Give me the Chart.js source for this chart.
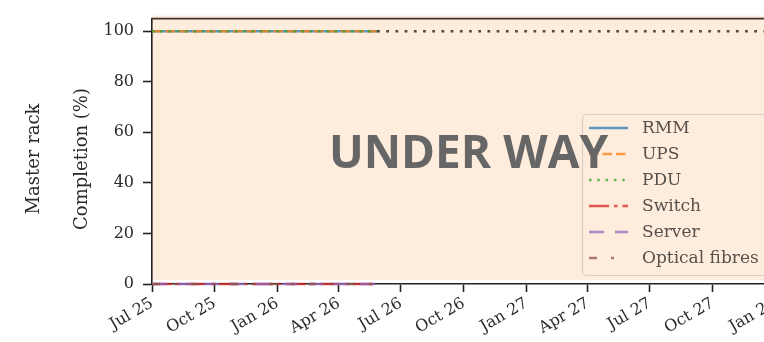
<!DOCTYPE html>
<html>
<head>
<meta charset="utf-8">
<title>Master rack completion</title>
<script src="https://cdn.jsdelivr.net/npm/chart.js@4.4.1/dist/chart.umd.min.js"></script>
<style>
  html, body { margin: 0; padding: 0; background: #fff; overflow: hidden; }
  #wrap { width: 764px; height: 342px; overflow: hidden; }
  canvas { display: block; }
</style>
</head>
<body>
<div id="wrap"><canvas id="rack" width="800" height="342"></canvas></div>
<script>
'use strict';

// ── data ──────────────────────────────────────────────────────────────────────

const xTickDates = ['2025-07-01', '2025-10-01', '2026-01-01', '2026-04-01', '2026-07-01', '2026-10-01',
  '2027-01-01', '2027-04-01', '2027-07-01', '2027-10-01', '2028-01-01'];
const xTickLabels = ['Jul 25', 'Oct 25', 'Jan 26', 'Apr 26', 'Jul 26', 'Oct 26',
  'Jan 27', 'Apr 27', 'Jul 27', 'Oct 27', 'Jan 28'];
const yTickValues = [0, 20, 40, 60, 80, 100];

const xStart = '2025-07-01';
const xEnd = '2028-01-15';

const taskNames = ['RMM', 'UPS', 'PDU', 'Switch', 'Server', 'Optical fibres'];
const progressDates = ['2025-07-01', '2026-05-27'];
const rmmValues = [100, 100];
const upsValues = [100, 100];
const pduValues = [100, 100];
const switchValues = [0, 0];
const serverValues = [0, 0];
const fibreValues = [0, 0];

const plannedDates = ['2026-05-27', xEnd];
const plannedValues = [100, 100];

const statusText = 'UNDER WAY';
const rowLabel = 'Master rack';
const yTitle = 'Completion (%)';

// ── helpers ───────────────────────────────────────────────────────────────────

const DAY = 86400000;
const origin = Date.UTC(2025, 6, 1);

function dayOf(iso) {
  const [y, m, d] = iso.split('-').map(Number);
  return (Date.UTC(y, m - 1, d) - origin) / DAY;
}

function points(dates, values) {
  return dates.map((d, i) => ({ x: dayOf(d), y: values[i] }));
}

const SERIF = '"DejaVu Serif", serif';
const TEXT = '#2a2a2a';

const styles = [
  { color: 'rgba(31,119,180,0.72)', dash: [] },
  { color: 'rgba(255,127,14,0.75)', dash: [9.5, 4] },
  { color: 'rgba(44,160,44,0.75)', dash: [2.5, 5.8] },
  { color: 'rgba(214,39,40,0.75)', dash: [20, 5, 3.5, 5] },
  { color: 'rgba(148,103,189,0.75)', dash: [15, 11] },
  { color: 'rgba(140,86,75,0.75)', dash: [8, 14, 3, 14] },
];

const seriesValues = [rmmValues, upsValues, pduValues, switchValues, serverValues, fibreValues];

const datasets = taskNames.map((name, i) => ({
  label: name,
  data: points(progressDates, seriesValues[i]),
  borderColor: styles[i].color,
  borderDash: styles[i].dash,
  borderWidth: 2.6,
  borderCapStyle: 'butt',
  pointRadius: 0,
  tension: 0,
  clip: false,
  order: 10 - i, // first task sits at the bottom of the stack
}));

datasets.push({
  label: 'planned',
  data: points(plannedDates, plannedValues),
  borderColor: 'rgba(40,34,30,0.82)',
  borderDash: [2.7, 6.5],
  borderWidth: 2.7,
  borderCapStyle: 'butt',
  pointRadius: 0,
  tension: 0,
  clip: false,
  order: 0,
});

// ── plugins ───────────────────────────────────────────────────────────────────

const panelBackground = {
  id: 'panelBackground',
  beforeDraw(chart) {
    const { ctx, chartArea, scales } = chart;
    const bottom = scales.y.getPixelForValue(1.6);
    ctx.save();
    ctx.fillStyle = '#feecdd';
    ctx.fillRect(chartArea.left, chartArea.top - 3, chart.width - chartArea.left, bottom - chartArea.top + 3);
    ctx.restore();
  },
  afterDraw(chart) {
    const { ctx, chartArea } = chart;
    ctx.save();
    // top spine
    ctx.strokeStyle = '#3a3530';
    ctx.lineWidth = 1.6;
    ctx.beginPath();
    ctx.moveTo(chartArea.left - 0.8, chartArea.top);
    ctx.lineTo(chart.width, chartArea.top);
    ctx.stroke();

    // axis titles, rotated
    ctx.fillStyle = TEXT;
    ctx.font = '18px ' + SERIF;
    ctx.textAlign = 'center';
    ctx.textBaseline = 'middle';
    const cy = 159;
    [[rowLabel, 34], [yTitle, 82]].forEach(([txt, x]) => {
      ctx.save();
      ctx.translate(x, cy);
      ctx.rotate(-Math.PI / 2);
      ctx.fillText(txt, 0, 0);
      ctx.restore();
    });

    // legend
    const lx = 582, ly = 114, lw = 240, lh = 161;
    ctx.fillStyle = 'rgba(254,236,221,0.85)';
    ctx.strokeStyle = '#d9cfc4';
    ctx.lineWidth = 1.2;
    ctx.beginPath();
    ctx.roundRect(lx + 0.5, ly + 0.5, lw, lh, 4);
    ctx.fill();
    ctx.stroke();

    ctx.font = '17px ' + SERIF;
    ctx.textAlign = 'left';
    ctx.textBaseline = 'middle';
    taskNames.forEach((name, i) => {
      const ds = chart.data.datasets[i];
      const y = 128 + i * 26;
      ctx.strokeStyle = ds.borderColor;
      ctx.lineWidth = ds.borderWidth;
      ctx.lineCap = 'butt';
      ctx.setLineDash(ds.borderDash);
      ctx.beginPath();
      ctx.moveTo(589, y);
      ctx.lineTo(628, y);
      ctx.stroke();
      ctx.setLineDash([]);
      ctx.fillStyle = '#57514b';
      ctx.fillText(name, 642, y + 1);
    });

    // status stamp over the panel
    ctx.font = 'bold 46px "Open Sans", sans-serif';
    ctx.fillStyle = '#666666';
    ctx.textAlign = 'center';
    ctx.textBaseline = 'alphabetic';
    const mx = (chartArea.left + chartArea.right) / 2;
    const my = (chartArea.top + chartArea.bottom) / 2;
    ctx.fillText(statusText, mx, my + 17);
    ctx.restore();
  },
};

// ── chart ─────────────────────────────────────────────────────────────────────

new Chart(document.getElementById('rack'), {
  type: 'line',
  data: { datasets },
  options: {
    responsive: false,
    animation: false,
    devicePixelRatio: 1,
    layout: { padding: { top: 15, right: 15, left: 0, bottom: 0 } },
    plugins: {
      legend: { display: false },
      tooltip: { enabled: false },
    },
    scales: {
      x: {
        type: 'linear',
        min: dayOf(xStart),
        max: dayOf(xEnd),
        afterBuildTicks(scale) {
          scale.ticks = xTickDates.map(d => ({ value: dayOf(d) }));
        },
        afterFit(scale) { scale.height = 58; },
        ticks: {
          autoSkip: false,
          minRotation: 30,
          maxRotation: 30,
          padding: 2,
          color: TEXT,
          font: { family: SERIF, size: 16 },
          callback: (v, i) => xTickLabels[i],
        },
        grid: { drawOnChartArea: false, drawTicks: true, tickLength: 8, tickWidth: 1.6, tickColor: '#222' },
        border: { display: true, color: '#222', width: 1.6 },
      },
      y: {
        min: 0,
        max: 105,
        afterBuildTicks(scale) {
          scale.ticks = yTickValues.map(v => ({ value: v }));
        },
        afterFit(scale) { scale.width = 152; },
        ticks: {
          padding: 9,
          color: TEXT,
          font: { family: SERIF, size: 16 },
        },
        grid: { drawOnChartArea: false, drawTicks: true, tickLength: 9, tickWidth: 1.6, tickColor: '#222' },
        border: { display: true, color: '#222', width: 1.6 },
      },
    },
  },
  plugins: [panelBackground],
});
</script>
</body>
</html>
